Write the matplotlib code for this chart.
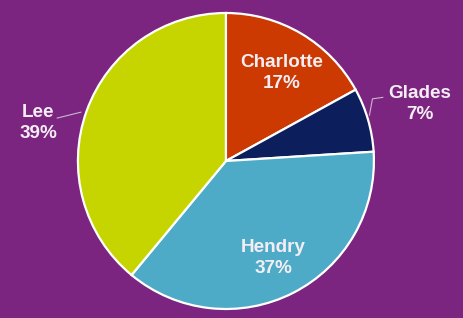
import matplotlib.pyplot as plt

# slice data, clockwise from 12 o'clock
regions = ['Charlotte', 'Glades', 'Hendry', 'Lee']
shares = [17, 7, 37, 39]
colors = ['#CC3A02', '#0C1F5C', '#4DABC8', '#C6D500']

bg = '#7B2480'
txt = '#F4EEF4'

fig = plt.figure(figsize=(4.63, 3.18), dpi=100, facecolor=bg)
# axes positioned so the pie sits where it does in the reference
ax = fig.add_axes([0.488 - 0.3197, 0.4937 - 0.4654, 0.6393, 0.9308])
ax.set_facecolor(bg)

ax.pie(shares, colors=colors, startangle=90, counterclock=False, radius=1,
       wedgeprops={'edgecolor': 'white', 'linewidth': 1.6})
ax.set_xlim(-1, 1)
ax.set_ylim(-1, 1)
ax.axis('off')

font = dict(family='Liberation Sans', fontweight='bold', fontsize=13.6,
            color=txt, ha='center', va='center', linespacing=1.3)

# label positions (data coords)
pos = {'Charlotte': (0.38, 0.595), 'Glades': (1.31, 0.385),
       'Hendry': (0.32, -0.655), 'Lee': (-1.27, 0.257)}
for name, val in zip(regions, shares):
    x, y = pos[name]
    ax.text(x, y, f'{name}\n{val}%', clip_on=False, **font)

# leader lines for the outside labels
ax.plot([0.97, 0.99, 1.06], [0.31, 0.42, 0.43], color='#C8B8CC', lw=0.8, clip_on=False)
ax.plot([-1.14, -0.98], [0.29, 0.33], color='#C8B8CC', lw=0.8, clip_on=False)

fig.savefig('out.png', dpi=100, facecolor=bg)
